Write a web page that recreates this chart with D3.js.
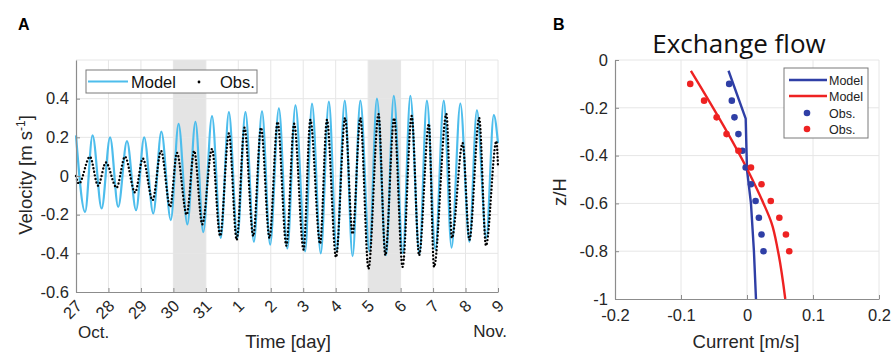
<!DOCTYPE html>
<html>
<head>
<meta charset="utf-8">
<script src="https://cdn.jsdelivr.net/npm/d3@7/dist/d3.min.js"></script>
<style>
  body { margin: 0; background: #fff; }
  svg { display: block; font-family: "Liberation Sans", Arial, sans-serif; }
</style>
</head>
<body>
<svg id="chart" width="891" height="354"></svg>
<script>
// ---------- panel A : velocity, time in days after 27 Oct 00:00 ----------
var dayTicks = [0, 1, 2, 3, 4, 5, 6, 7, 8, 9, 10, 11, 12, 13];
var dayLabels = ["27", "28", "29", "30", "31", "1", "2", "3", "4", "5", "6", "7", "8", "9"];
var shadedDays = [[3, 4], [9, 10]];
var velTicks = [-0.6, -0.4, -0.2, 0, 0.2, 0.4];

// model (blue line) highs and lows
var modelHighT = [0, 0.51, 1.05, 1.57, 2.1, 2.63, 3.16, 3.68, 4.19, 4.71, 5.22, 5.73, 6.25, 6.76, 7.27, 7.79, 8.28, 8.76, 9.27, 9.79, 10.3, 10.81, 11.33, 11.84, 12.35, 12.87];
var modelHighV = [0.21, 0.21, 0.2, 0.18, 0.2, 0.23, 0.27, 0.28, 0.31, 0.33, 0.33, 0.335, 0.35, 0.365, 0.375, 0.385, 0.39, 0.39, 0.4, 0.415, 0.415, 0.39, 0.39, 0.375, 0.34, 0.315];
var modelLowT = [0.28, 0.79, 1.3, 1.85, 2.38, 2.92, 3.43, 3.92, 4.46, 4.97, 5.48, 5.98, 6.51, 7.06, 7.54, 8.03, 8.52, 9.04, 9.55, 10.07, 10.58, 11.07, 11.57, 12.12, 12.64, 13];
var modelLowV = [-0.186, -0.168, -0.16, -0.177, -0.194, -0.228, -0.25, -0.29, -0.32, -0.32, -0.34, -0.355, -0.375, -0.39, -0.4, -0.39, -0.415, -0.39, -0.41, -0.4, -0.405, -0.38, -0.37, -0.34, -0.32, 0.17];

// observations (black dots) highs and lows
var obsHighT = [0, 0.43, 0.92, 1.51, 2.06, 2.62, 3.11, 3.64, 4.19, 4.71, 5.19, 5.7, 6.21, 6.72, 7.22, 7.73, 8.29, 8.76, 9.32, 9.8, 10.34, 10.87, 11.41, 11.91, 12.42, 12.95];
var obsHighV = [0, 0.1, 0.07, 0.1, 0.09, 0.13, 0.12, 0.13, 0.14, 0.22, 0.25, 0.25, 0.28, 0.27, 0.29, 0.29, 0.3, 0.3, 0.32, 0.3, 0.31, 0.27, 0.32, 0.17, 0.3, 0.18];
var obsLowT = [0.09, 0.68, 1.25, 1.82, 2.36, 2.9, 3.41, 3.89, 4.44, 4.95, 5.46, 5.96, 6.48, 7.01, 7.52, 8.01, 8.52, 9.01, 9.53, 10.06, 10.57, 11.03, 11.58, 12.12, 12.63, 13];
var obsLowV = [-0.04, -0.05, -0.06, -0.085, -0.125, -0.16, -0.2, -0.25, -0.31, -0.33, -0.31, -0.32, -0.36, -0.38, -0.35, -0.42, -0.3, -0.48, -0.41, -0.47, -0.41, -0.47, -0.32, -0.33, -0.36, 0.05];

// ---------- panel B : exchange flow profile ----------
var currentTicks = [-0.2, -0.1, 0, 0.1, 0.2];
var depthTicks = [-1, -0.8, -0.6, -0.4, -0.2, 0];
var blueModelZ = [-0.045, -0.245, -0.46, -0.6, -0.8, -1];
var blueModelU = [-0.028, -0.002, 0.0, 0.006, 0.0105, 0.0136];
var redModelZ = [-0.045, -0.46, -0.6, -0.68, -0.8, -1];
var redModelU = [-0.085, 0.001, 0.025, 0.037, 0.047, 0.058];
var obsZ = [-0.1, -0.17, -0.24, -0.31, -0.38, -0.45, -0.52, -0.59, -0.66, -0.73, -0.8];
var blueObsU = [-0.027, -0.023, -0.019, -0.013, -0.007, -0.002, 0.006, 0.013, 0.018, 0.022, 0.025];
var redObsU = [-0.086, -0.065, -0.046, -0.031, -0.013, 0.006, 0.022, 0.036, 0.049, 0.059, 0.064];

var modelColor = "#4dbdec";
var blueColor = "#2f3fa6";
var redColor = "#ee2222";
var gridColor = "#e6e6e6";
var axisColor = "#8c8c8c";
var textColor = "#262626";

var svg = d3.select("#chart");

function pairs(ts, vs) {
  return ts.map(function(t, i) { return [t, vs[i]]; });
}

function styleAxis(g) {
  g.select(".domain").attr("stroke", axisColor).attr("stroke-width", 1.2);
  g.selectAll(".tick line").attr("stroke", axisColor);
  g.selectAll(".tick text").attr("fill", textColor).style("font-size", "16.5px")
    .style("font-family", "'Liberation Sans', Arial, sans-serif");
}

// ======================= PANEL A =======================
var A = {left: 76, right: 498, top: 60, bottom: 292};
var xA = d3.scaleLinear().domain([0, 13]).range([A.left, A.right]);
var yA = d3.scaleLinear().domain([-0.6, 0.6]).range([A.bottom, A.top]);

svg.selectAll("rect.shade").data(shadedDays).enter().append("rect")
  .attr("class", "shade")
  .attr("x", function(d) { return xA(d[0]); })
  .attr("width", function(d) { return xA(d[1]) - xA(d[0]); })
  .attr("y", A.top)
  .attr("height", A.bottom - A.top)
  .attr("fill", "#e4e4e4");

// grid
svg.append("g").selectAll("line").data(dayTicks.slice(1)).enter().append("line")
  .attr("x1", function(d) { return xA(d); }).attr("x2", function(d) { return xA(d); })
  .attr("y1", A.top).attr("y2", A.bottom)
  .attr("stroke", gridColor);
svg.append("g").selectAll("line").data(velTicks.slice(1).concat([0.6])).enter().append("line")
  .attr("x1", A.left).attr("x2", A.right)
  .attr("y1", function(d) { return yA(d); }).attr("y2", function(d) { return yA(d); })
  .attr("stroke", gridColor);

var modelPts = pairs(modelHighT, modelHighV).concat(pairs(modelLowT, modelLowV))
  .sort(function(a, b) { return a[0] - b[0]; });
var obsPts = pairs(obsHighT, obsHighV).concat(pairs(obsLowT, obsLowV))
  .sort(function(a, b) { return a[0] - b[0]; });

var lineA = d3.line()
  .curve(d3.curveMonotoneX)
  .x(function(d) { return xA(d[0]); })
  .y(function(d) { return yA(d[1]); });

svg.append("path")
  .datum(modelPts)
  .attr("d", lineA)
  .attr("fill", "none")
  .attr("stroke", modelColor)
  .attr("stroke-width", 2.2);

// obs drawn as a dotted trace
svg.append("path")
  .datum(obsPts)
  .attr("d", lineA)
  .attr("fill", "none")
  .attr("stroke", "#000")
  .attr("stroke-width", 2.4)
  .attr("stroke-linecap", "round")
  .attr("stroke-dasharray", "0 3.6");

// axes
var xAxisA = svg.append("g")
  .attr("transform", "translate(0," + A.bottom + ")")
  .call(d3.axisBottom(xA).tickValues(dayTicks).tickSizeInner(-4).tickSizeOuter(0).tickFormat(""));
styleAxis(xAxisA);

svg.append("g").selectAll("text").data(dayTicks).enter().append("text")
  .attr("transform", function(d) { return "translate(" + (xA(d) + 7) + "," + (A.bottom + 15) + ") rotate(-45)"; })
  .attr("text-anchor", "end")
  .attr("fill", textColor)
  .style("font-size", "16.5px")
  .text(function(d, i) { return dayLabels[i]; });

var yAxisA = svg.append("g")
  .attr("transform", "translate(" + A.left + ",0)")
  .call(d3.axisLeft(yA).tickValues(velTicks).tickSizeInner(-4).tickSizeOuter(0).tickPadding(7)
    .tickFormat(function(d) { return String(d); }));
styleAxis(yAxisA);

svg.append("text").attr("x", 78).attr("y", 338).attr("fill", textColor)
  .style("font-size", "17px").text("Oct.");
svg.append("text").attr("x", 507).attr("y", 337).attr("text-anchor", "end").attr("fill", textColor)
  .style("font-size", "17px").text("Nov.");

svg.append("text").attr("x", 288).attr("y", 348).attr("text-anchor", "middle").attr("fill", textColor)
  .style("font-size", "18.5px").text("Time [day]");

var yLabA = svg.append("text")
  .attr("transform", "translate(32,175) rotate(-90)")
  .attr("text-anchor", "middle")
  .attr("fill", textColor)
  .style("font-size", "18.5px");
yLabA.append("tspan").text("Velocity [m s");
yLabA.append("tspan").attr("dy", -7).style("font-size", "12px").text("-1");
yLabA.append("tspan").attr("dy", 7).text("]");

// legend A
var legA = svg.append("g");
legA.append("rect").attr("x", 86).attr("y", 70).attr("width", 171).attr("height", 23)
  .attr("fill", "#fff").attr("stroke", "#7a7a7a").attr("stroke-width", 1);
legA.append("line").attr("x1", 88).attr("x2", 128).attr("y1", 81.5).attr("y2", 81.5)
  .attr("stroke", modelColor).attr("stroke-width", 2.2);
legA.append("text").attr("x", 131).attr("y", 87.5).attr("fill", "#111").style("font-size", "16.5px").text("Model");
legA.append("circle").attr("cx", 199).attr("cy", 82).attr("r", 1.4).attr("fill", "#000");
legA.append("text").attr("x", 220).attr("y", 87.5).attr("fill", "#111").style("font-size", "16.5px").text("Obs.");

svg.append("text").attr("x", 18).attr("y", 30).style("font-size", "16px").style("font-weight", "bold")
  .attr("fill", "#000").text("A");

// ======================= PANEL B =======================
var B = {left: 615, right: 879, top: 60, bottom: 299};
var xB = d3.scaleLinear().domain([-0.2, 0.2]).range([B.left, B.right]);
var yB = d3.scaleLinear().domain([-1, 0]).range([B.bottom, B.top]);

svg.append("g").selectAll("line").data(currentTicks.slice(1)).enter().append("line")
  .attr("x1", function(d) { return xB(d); }).attr("x2", function(d) { return xB(d); })
  .attr("y1", B.top).attr("y2", B.bottom)
  .attr("stroke", gridColor);
svg.append("g").selectAll("line").data(depthTicks.slice(1)).enter().append("line")
  .attr("x1", B.left).attr("x2", B.right)
  .attr("y1", function(d) { return yB(d); }).attr("y2", function(d) { return yB(d); })
  .attr("stroke", gridColor);

var lineB = d3.line()
  .x(function(d) { return xB(d[0]); })
  .y(function(d) { return yB(d[1]); });

svg.append("path").datum(pairs(blueModelU, blueModelZ)).attr("d", lineB)
  .attr("fill", "none").attr("stroke", blueColor).attr("stroke-width", 2.4)
  .attr("stroke-linejoin", "round");
svg.append("path").datum(pairs(redModelU, redModelZ)).attr("d", lineB.curve(d3.curveMonotoneY))
  .attr("fill", "none").attr("stroke", redColor).attr("stroke-width", 2.4);

svg.append("g").selectAll("circle").data(pairs(blueObsU, obsZ)).enter().append("circle")
  .attr("cx", function(d) { return xB(d[0]); }).attr("cy", function(d) { return yB(d[1]); })
  .attr("r", 3.3).attr("fill", blueColor);
svg.append("g").selectAll("circle").data(pairs(redObsU, obsZ)).enter().append("circle")
  .attr("cx", function(d) { return xB(d[0]); }).attr("cy", function(d) { return yB(d[1]); })
  .attr("r", 3.3).attr("fill", redColor);

var xAxisB = svg.append("g")
  .attr("transform", "translate(0," + B.bottom + ")")
  .call(d3.axisBottom(xB).tickValues(currentTicks).tickSizeInner(-4).tickSizeOuter(0).tickPadding(10)
    .tickFormat(function(d) { return String(d); }));
styleAxis(xAxisB);

var yAxisB = svg.append("g")
  .attr("transform", "translate(" + B.left + ",0)")
  .call(d3.axisLeft(yB).tickValues(depthTicks).tickSizeInner(-4).tickSizeOuter(0).tickPadding(7)
    .tickFormat(function(d) { return String(d); }));
styleAxis(yAxisB);

svg.append("text").attr("x", 746).attr("y", 348).attr("text-anchor", "middle").attr("fill", textColor)
  .style("font-size", "18.5px").text("Current [m/s]");
svg.append("text").attr("transform", "translate(566,192) rotate(-90)").attr("text-anchor", "middle")
  .attr("fill", textColor).style("font-size", "18.5px").text("z/H");

svg.append("text").attr("x", 739).attr("y", 53).attr("text-anchor", "middle").attr("fill", "#111")
  .style("font-family", "'Open Sans', Lato, sans-serif").style("font-size", "26px").text("Exchange flow");

// legend B
var legB = svg.append("g");
legB.append("rect").attr("x", 784).attr("y", 68).attr("width", 84).attr("height", 70)
  .attr("fill", "#fff").attr("stroke", "#7a7a7a").attr("stroke-width", 1);
var legItems = [
  {label: "Model", color: blueColor, kind: "line", y: 80},
  {label: "Model", color: redColor, kind: "line", y: 96},
  {label: "Obs.", color: blueColor, kind: "dot", y: 113},
  {label: "Obs.", color: redColor, kind: "dot", y: 129}
];
legItems.forEach(function(it) {
  if (it.kind === "line") {
    legB.append("line").attr("x1", 789).attr("x2", 827).attr("y1", it.y).attr("y2", it.y)
      .attr("stroke", it.color).attr("stroke-width", 2.4);
  } else {
    legB.append("circle").attr("cx", 807).attr("cy", it.y).attr("r", 3.3).attr("fill", it.color);
  }
  legB.append("text").attr("x", 829).attr("y", it.y + 4.5).attr("fill", "#222")
    .style("font-size", "12.5px").text(it.label);
});

svg.append("text").attr("x", 553).attr("y", 30).style("font-size", "16px").style("font-weight", "bold")
  .attr("fill", "#000").text("B");
</script>
</body>
</html>
